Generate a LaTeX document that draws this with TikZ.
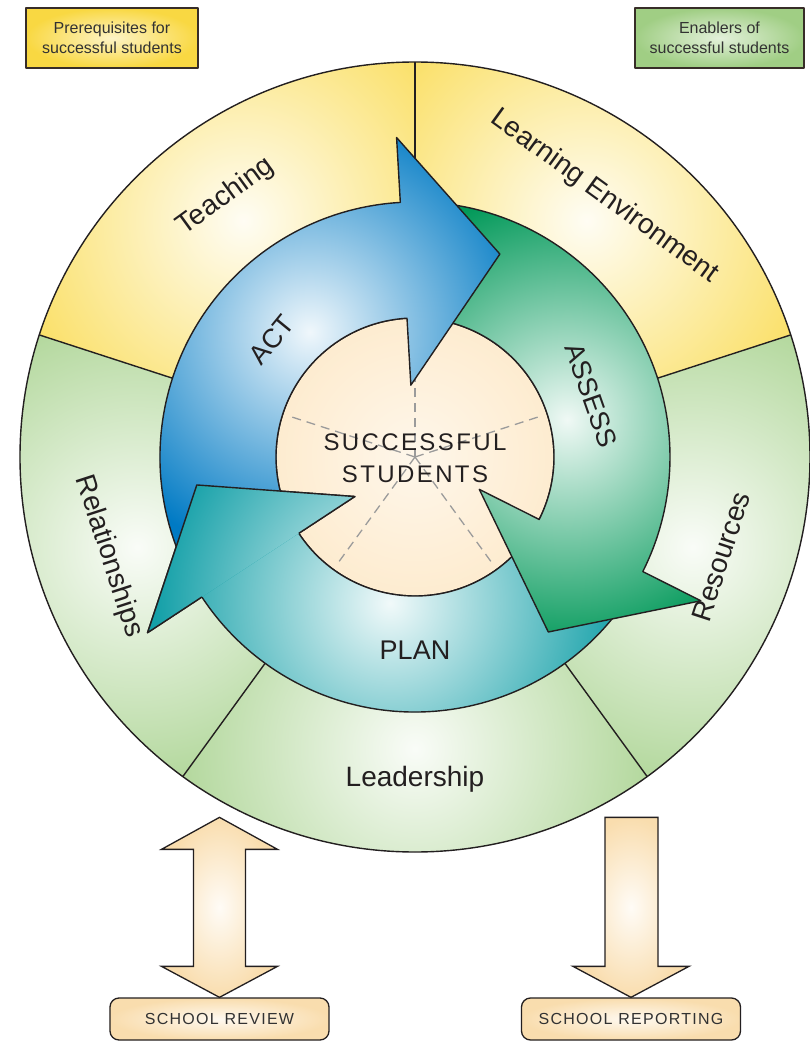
\documentclass[tikz,border=0pt]{standalone}
\usepackage{fontspec}
\setmainfont{Liberation Sans}
\newfontfamily\spacedfont[LetterSpace=10]{Liberation Sans}
\newfontfamily\capsfont[LetterSpace=8]{Liberation Sans}
\usetikzlibrary{calc}
\definecolor{ringyellow}{RGB}{249,216,66}
\definecolor{ringgreen}{RGB}{160,206,132}
\definecolor{actblue}{RGB}{0,122,196}
\definecolor{assessgreen}{RGB}{0,152,88}
\definecolor{planteal}{RGB}{20,160,168}
\definecolor{peach}{RGB}{253,231,196}
\definecolor{peachdark}{RGB}{249,221,174}
\definecolor{inkc}{RGB}{35,31,32}
\definecolor{boxedge}{RGB}{55,45,40}
\definecolor{textgray}{RGB}{50,50,50}
\definecolor{dashgray}{RGB}{155,155,155}
\newcommand\arrowshape[3]{(#1:139) -- (#1:255) arc[start angle=#1, end angle=#2, radius=255] -- (#2:320) -- (#3:220) -- (#2:72) -- (#2:139) arc[start angle=#2, end angle=#1, radius=139] -- cycle}
\newcommand\drawcyclearrow[6]{%
  \begin{scope}
    \clip \arrowshape{#1}{#2}{#3};
    \fill[#4] (-415,-585) rectangle (395,457);
    \shade[inner color=#4!6!white, outer color=#4] (#5,#6) circle (235);
  \end{scope}
  \draw[ink] \arrowshape{#1}{#2}{#3};
}
\tikzset{
  ink/.style={draw=inkc, line width=1.4},
  ringlabel/.style={font=\fontsize{28}{32}\selectfont, text=inkc, inner sep=0},
  arrowlabel/.style={font=\fontsize{27}{30}\selectfont, text=inkc, inner sep=0},
  legendbox/.style={draw=boxedge, line width=1.8, minimum width=172, minimum height=60, align=center, font=\fontsize{16}{20}\selectfont, text=textgray, inner sep=0},
  schoolbox/.style={draw=inkc, line width=1.3, rounded corners=9, minimum width=219, minimum height=42, font=\capsfont\fontsize{16}{18}\selectfont, text=textgray, inner sep=0, inner color=peach!25!white, outer color=peachdark},
  blockarrow/.style={draw=inkc, line width=1.3, line join=miter, inner color=peach!15!white, outer color=peachdark},
}
\begin{document}
\begin{tikzpicture}[x=1pt,y=1pt,line join=round]
\useasboundingbox (-415,-585) rectangle (395,457);
\fill[white] (-415,-585) rectangle (395,457);

% outer ring sectors
\foreach \sa/\sb/\sc/\sm in {90/162/ringyellow/126, 18/90/ringyellow/54, -54/18/ringgreen/-18, -126/-54/ringgreen/-90, 162/234/ringgreen/198}{
  \begin{scope}
    \clip (\sa:240) -- (\sa:395) arc[start angle=\sa, end angle=\sb, radius=395] -- (\sb:240) arc[start angle=\sb, end angle=\sa, radius=240] -- cycle;
    \fill[\sc] (-415,-585) rectangle (395,457);
    \shade[inner color=\sc!6!white, outer color=\sc] (\sm:292) circle (300);
  \end{scope}
}
\foreach \a in {90,162,234,306,18} \draw[ink] (\a:255) -- (\a:395);
\draw[ink] (0,0) circle (395);

% inner circle
\fill[peach] (0,0) circle (139);
\shade[inner color=peach!35!white, outer color=peach] (0,0) circle (200);
\fill[peach, even odd rule] (0,0) circle (200) circle (139);
\foreach \a in {90,18,162,234,306} \draw[dashgray, line width=1.3, dash pattern=on 9pt off 6pt] (0,0) -- (\a:132);
\draw[ink] (0,0) circle (139);

% cycle arrows
\drawcyclearrow{-29.7}{-146.7}{-172.7}{planteal}{-25}{-146}
\drawcyclearrow{90.3}{-26.7}{-52.7}{assessgreen}{152}{37}
\drawcyclearrow{210.3}{93.3}{67.3}{actblue}{-105}{125}
% PLAN head on top of ACT tail
\begin{scope}
  \clip (-146.7:320) -- (-172.7:220) -- (-146.7:72) -- cycle;
  \fill[planteal] (-415,-585) rectangle (395,457);
  \shade[inner color=planteal!6!white, outer color=planteal] (-25,-146) circle (235);
\end{scope}
\draw[ink] (-146.7:255) -- (-146.7:320) -- (-172.7:220) -- (-146.7:72) -- (-146.7:139);

% ring labels
\node[ringlabel, rotate=36] (teaching) at (126:322) {Teaching};
\node[ringlabel, rotate=-36] (learning) at (54:322) {Learning Environment};
\node[ringlabel, rotate=72] (resources) at (-18:322) {Resources};
\node[ringlabel] (leadership) at (270:322) {Leadership};
\node[ringlabel, rotate=-72] (relationships) at (198:322) {Relationships};

% arrow labels
\node[arrowlabel, rotate=50.7] (act) at (140.7:185) {ACT};
\node[arrowlabel, rotate=-70.7] (assess) at (19.3:187) {ASSESS};
\node[arrowlabel] (plan) at (270:193) {PLAN};

% centre text
\node[align=center, font=\spacedfont\fontsize{24}{32}\selectfont, text=inkc, inner sep=0] (centre) at (0,-1) {SUCCESSFUL\\STUDENTS};

% legend boxes
\node[legendbox, inner color=ringyellow!30!white, outer color=ringyellow] (prereq) at (-303,419) {Prerequisites for\\successful students};
\node[legendbox, minimum width=169, inner color=ringgreen!30!white, outer color=ringgreen] (enablers) at (304.5,419) {Enablers of\\successful students};

% school boxes
\node[schoolbox] (review) at (-195.5,-562) {SCHOOL REVIEW};
\node[schoolbox] (reporting) at (216,-562) {SCHOOL REPORTING};

% block arrows
\shadedraw[blockarrow] (review.north) -- ++(58,31) -- ++(-32,0) -- ++(0,117) -- ++(32,0) -- ++(-58,32) -- ++(-58,-32) -- ++(32,0) -- ++(0,-117) -- ++(-32,0) -- cycle;
\shadedraw[blockarrow] (reporting.north) -- ++(58,31) -- ++(-31,0) -- ++(0,149) -- ++(-53,0) -- ++(0,-149) -- ++(-32,0) -- cycle;
\end{tikzpicture}
\end{document}
